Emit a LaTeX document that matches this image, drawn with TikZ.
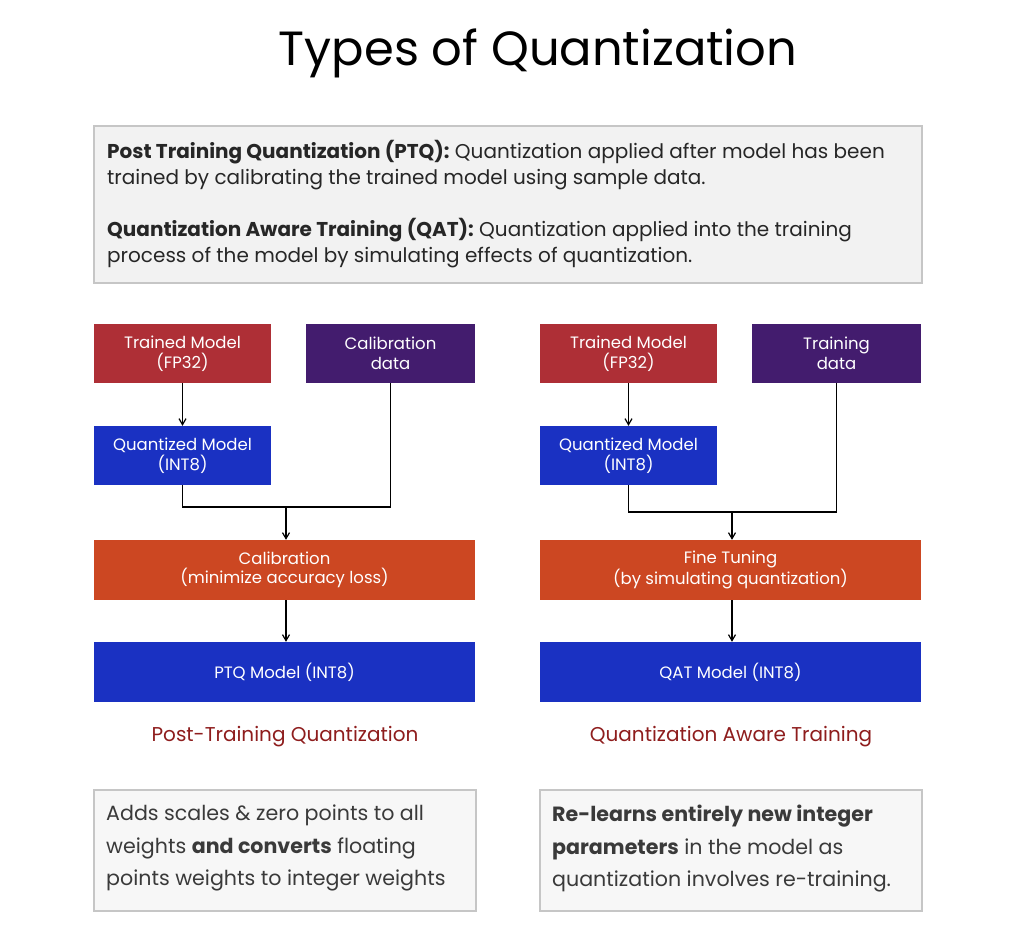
\documentclass[tikz,border=0pt]{standalone}
\usepackage{fontspec}
\setmainfont{Poppins}
\usetikzlibrary{arrows.meta}
\definecolor{redbox}{HTML}{AE2F36}
\definecolor{purplebox}{HTML}{431C6E}
\definecolor{bluebox}{HTML}{1A31C2}
\definecolor{orangebox}{HTML}{CC4722}
\definecolor{capred}{HTML}{8E1D1D}
\definecolor{infofill}{HTML}{F2F2F2}
\definecolor{infoline}{HTML}{C6C6C6}
\definecolor{notefill}{HTML}{F7F7F7}
\definecolor{notetext}{HTML}{3A3A3A}
\tikzset{
  box/.style={draw=none, inner sep=0pt, align=center, text=white,
    font=\fontsize{16.5}{19.5}\selectfont},
  conn/.style={draw=black, line width=1.2pt},
  arr/.style={conn, -{Straight Barb[length=6pt,width=7pt]}},
  info/.style={fill=infofill, draw=infoline, line width=2pt},
  note/.style={fill=notefill, draw=infoline, line width=2pt},
}
\begin{document}
\begin{tikzpicture}[x=1pt,y=-1pt]
\useasboundingbox (0,0) rectangle (1017,938);
% title
\node[font=\fontsize{48}{52}\selectfont] (title) at (538,53) {Types of Quantization};
% info box
\draw[info] (94,126) rectangle (922,283);
\node[anchor=north west, align=left, inner sep=0pt, text=black!85,
  font=\fontsize{20}{26}\selectfont] (infotext) at (107,140)
  {\textbf{Post Training Quantization (PTQ):} Quantization applied after model has been\\
   trained by calibrating the trained model using sample data.\\[26pt]
   \textbf{Quantization Aware Training (QAT):} Quantization applied into the training\\
   process of the model by simulating effects of quantization.};
% ---------- left ----------
\node[box, fill=redbox, minimum width=177pt, minimum height=59pt] (tm1) at (182.5,353.5) {Trained Model\\(FP32)};
\node[box, fill=purplebox, minimum width=169pt, minimum height=59pt] (cd1) at (390.5,353.5) {Calibration\\data};
\node[box, fill=bluebox, minimum width=177pt, minimum height=59pt] (qm1) at (182.5,455.5) {Quantized Model\\(INT8)};
\node[box, fill=orangebox, minimum width=381pt, minimum height=60pt] (cal1) at (284.5,570) {Calibration\\(minimize accuracy loss)};
\node[box, fill=bluebox, minimum width=381pt, minimum height=60pt] (out1) at (284.5,672) {PTQ Model (INT8)};
\coordinate (j1) at (286,507);
\draw[arr] (tm1) -- (qm1);
\draw[conn] (qm1.south) |- (j1) -| (cd1.south);
\draw[arr] (j1) -- (j1 |- cal1.north);
\draw[arr] (j1 |- cal1.south) -- (j1 |- out1.north);
\node[text=capred, font=\fontsize{20}{23}\selectfont] (lab1) at (285,737) {Post-Training Quantization};
\draw[note] (94,790) rectangle (476,911);
\node[anchor=north west, align=left, inner sep=0pt, text=notetext,
  font=\fontsize{20.6}{32.5}\selectfont] (note1) at (106,805)
  {Adds scales \& zero points to all\\
   weights \textbf{and converts} floating\\
   points weights to integer weights};
% ---------- right ----------
\node[box, fill=redbox, minimum width=177pt, minimum height=59pt] (tm2) at (628.5,353.5) {Trained Model\\(FP32)};
\node[box, fill=purplebox, minimum width=169pt, minimum height=59pt] (cd2) at (836.5,353.5) {Training\\data};
\node[box, fill=bluebox, minimum width=177pt, minimum height=59pt] (qm2) at (628.5,455.5) {Quantized Model\\(INT8)};
\node[box, fill=orangebox, minimum width=381pt, minimum height=60pt] (cal2) at (730.5,570) {Fine Tuning\\(by simulating quantization)};
\node[box, fill=bluebox, minimum width=381pt, minimum height=60pt] (out2) at (730.5,672) {QAT Model (INT8)};
\coordinate (j2) at (732,512);
\draw[arr] (tm2) -- (qm2);
\draw[conn] (qm2.south) |- (j2) -| (cd2.south);
\draw[arr] (j2) -- (j2 |- cal2.north);
\draw[arr] (j2 |- cal2.south) -- (j2 |- out2.north);
\node[text=capred, font=\fontsize{20}{23}\selectfont] (lab2) at (731,737) {Quantization Aware Training};
\draw[note] (540,790) rectangle (922,911);
\node[anchor=north west, align=left, inner sep=0pt, text=notetext,
  font=\fontsize{20.6}{32.5}\selectfont] (note2) at (552,805)
  {\textbf{Re-learns entirely new integer}\\
   \textbf{parameters} in the model as\\
   quantization involves re-training.};
\end{tikzpicture}
\end{document}
